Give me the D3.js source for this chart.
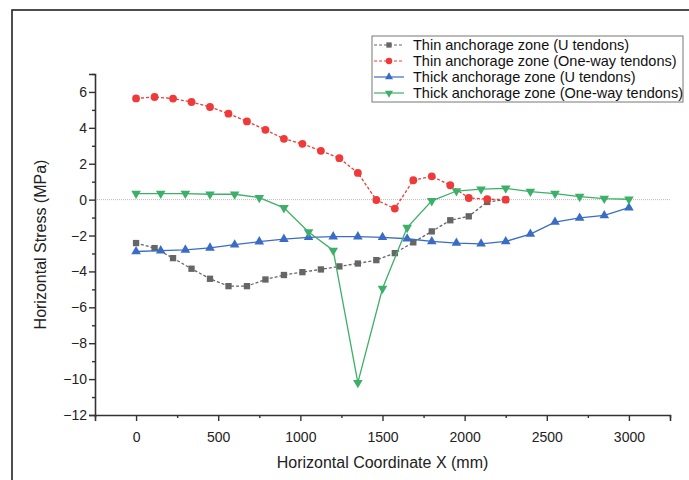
<!DOCTYPE html>
<html>
<head>
<meta charset="utf-8">
<script src="https://cdn.jsdelivr.net/npm/d3@7"></script>
<style>
  body { margin: 0; background: #fff; }
  svg { display: block; font-family: "Liberation Sans", Arial, sans-serif; }
</style>
</head>
<body>
<script>
// x positions (mm)
const thinX = [0, 112.5, 225, 337.5, 450, 562.5, 675, 787.5, 900, 1012.5, 1125, 1237.5, 1350,
  1462.5, 1575, 1687.5, 1800, 1912.5, 2025, 2137.5, 2250];
const thickX = [0, 150, 300, 450, 600, 750, 900, 1050, 1200, 1350, 1500, 1650, 1800, 1950,
  2100, 2250, 2400, 2550, 2700, 2850, 3000];

// stress values (MPa)
const thinU = [-2.42, -2.7, -3.26, -3.85, -4.41, -4.82, -4.82, -4.45, -4.2, -4.04, -3.89, -3.72,
  -3.56, -3.37, -2.98, -2.38, -1.77, -1.15, -0.93, -0.13, 0.0];
const thinOneWay = [5.64, 5.72, 5.63, 5.44, 5.16, 4.79, 4.36, 3.89, 3.39, 3.11, 2.72, 2.31,
  1.49, -0.02, -0.5, 1.08, 1.3, 0.8, 0.09, 0.03, 0.0];
const thickU = [-2.89, -2.84, -2.8, -2.69, -2.51, -2.34, -2.2, -2.1, -2.06, -2.06, -2.1, -2.18,
  -2.33, -2.42, -2.46, -2.33, -1.92, -1.25, -1.02, -0.88, -0.45];
const thickOneWay = [0.34, 0.34, 0.34, 0.3, 0.3, 0.11, -0.46, -1.8, -2.83, -10.2, -4.95, -1.56,
  -0.07, 0.48, 0.58, 0.63, 0.45, 0.34, 0.17, 0.06, 0.02];

const labels = [
  "Thin anchorage zone (U tendons)",
  "Thin anchorage zone (One-way tendons)",
  "Thick anchorage zone (U tendons)",
  "Thick anchorage zone (One-way tendons)"
];

const xTicks = [0, 500, 1000, 1500, 2000, 2500, 3000];
const yTicks = [-12, -10, -8, -6, -4, -2, 0, 2, 4, 6];

const series = [
  { name: labels[0], xs: thinX, ys: thinU, color: "#666666", dash: "3,2", symbol: d3.symbolSquare, size: 40, rot: 0 },
  { name: labels[1], xs: thinX, ys: thinOneWay, color: "#f03a3a", dash: "3,2", symbol: d3.symbolCircle, size: 48, rot: 0 },
  { name: labels[2], xs: thickX, ys: thickU, color: "#3a6cc6", dash: null, symbol: d3.symbolTriangle, size: 40, rot: 0 },
  { name: labels[3], xs: thickX, ys: thickOneWay, color: "#3cb068", dash: null, symbol: d3.symbolTriangle, size: 40, rot: 180 }
];

const FONT = "'Liberation Sans', Arial, sans-serif";
const width = 689, height = 480;
const svg = d3.select("body").append("svg")
  .attr("width", width)
  .attr("height", height);

// outer frame
svg.append("rect")
  .attr("x", 12).attr("y", 10)
  .attr("width", 700).attr("height", 500)
  .attr("fill", "none")
  .attr("stroke", "#222")
  .attr("stroke-width", 1.6);

const x = d3.scaleLinear().domain([-250, 3250]).range([95, 670]);
const y = d3.scaleLinear().domain([-12, 7]).range([415, 74]);

// zero reference line
svg.append("line")
  .attr("x1", x(-250)).attr("x2", x(3250))
  .attr("y1", y(0)).attr("y2", y(0))
  .attr("stroke", "#bbb")
  .attr("stroke-width", 1)
  .attr("stroke-dasharray", "1,1");

// minor ticks
const xMinor = d3.range(-250, 3251, 250).filter(v => !xTicks.includes(v));
const yMinor = d3.range(-11, 8, 2);

svg.append("g").attr("transform", `translate(0,${y(-12)})`)
  .call(d3.axisBottom(x).tickValues(xTicks).tickSize(6).tickPadding(11).tickFormat(d3.format("d")));
svg.append("g").attr("transform", `translate(0,${y(-12)})`)
  .call(d3.axisBottom(x).tickValues(xMinor).tickSize(3).tickFormat(""))
  .select(".domain").remove();

svg.append("g").attr("transform", `translate(${x(-250)},0)`)
  .call(d3.axisLeft(y).tickValues(yTicks).tickSize(6).tickPadding(2)
    .tickFormat(d => d3.format("d")(d).replace("-", "\u2212")));
svg.append("g").attr("transform", `translate(${x(-250)},0)`)
  .call(d3.axisLeft(y).tickValues(yMinor).tickSize(3).tickFormat(""))
  .select(".domain").remove();

svg.selectAll(".domain").attr("stroke", "#333").attr("stroke-width", 1.6);
svg.selectAll(".tick line").attr("stroke", "#333").attr("stroke-width", 1.4);
svg.selectAll(".tick text").attr("font-size", 14).attr("fill", "#222")
  .attr("font-family", FONT);

// axis titles
svg.append("text")
  .attr("x", x(1500)).attr("y", 468)
  .attr("text-anchor", "middle")
  .attr("font-size", 16)
  .attr("fill", "#222")
  .text("Horizontal Coordinate X (mm)");

svg.append("text")
  .attr("transform", `translate(46,${y(-2.5)}) rotate(-90)`)
  .attr("text-anchor", "middle")
  .attr("font-size", 16)
  .attr("fill", "#222")
  .text("Horizontal Stress (MPa)");

// lines and markers
const line = d3.line().x(d => x(d[0])).y(d => y(d[1]));

series.forEach(s => {
  const pts = s.xs.map((v, i) => [v, s.ys[i]]);
  svg.append("path")
    .datum(pts)
    .attr("d", line)
    .attr("fill", "none")
    .attr("stroke", s.color)
    .attr("stroke-width", 1.3)
    .attr("stroke-dasharray", s.dash);

  svg.append("g").selectAll("path")
    .data(pts)
    .join("path")
    .attr("d", d3.symbol().type(s.symbol).size(s.size))
    .attr("transform", d => `translate(${x(d[0])},${y(d[1])}) rotate(${s.rot})`)
    .attr("fill", s.color);
});

// legend
const lg = svg.append("g").attr("transform", "translate(372,36)");
lg.append("rect")
  .attr("width", 311).attr("height", 66)
  .attr("fill", "#fff")
  .attr("stroke", "#777")
  .attr("stroke-width", 1);

series.forEach((s, i) => {
  const row = lg.append("g").attr("transform", `translate(0,${9 + i * 16})`);
  row.append("line")
    .attr("x1", 2).attr("x2", 32)
    .attr("stroke", s.color)
    .attr("stroke-width", 1.2)
    .attr("stroke-dasharray", s.dash);
  row.append("path")
    .attr("d", d3.symbol().type(s.symbol).size(s.size * 0.7))
    .attr("transform", `translate(17,0) rotate(${s.rot})`)
    .attr("fill", s.color);
  row.append("text")
    .attr("x", 41).attr("y", 5)
    .attr("font-size", 14.5)
    .attr("font-family", FONT)
    .attr("fill", "#111")
    .text(s.name);
});
</script>
</body>
</html>
